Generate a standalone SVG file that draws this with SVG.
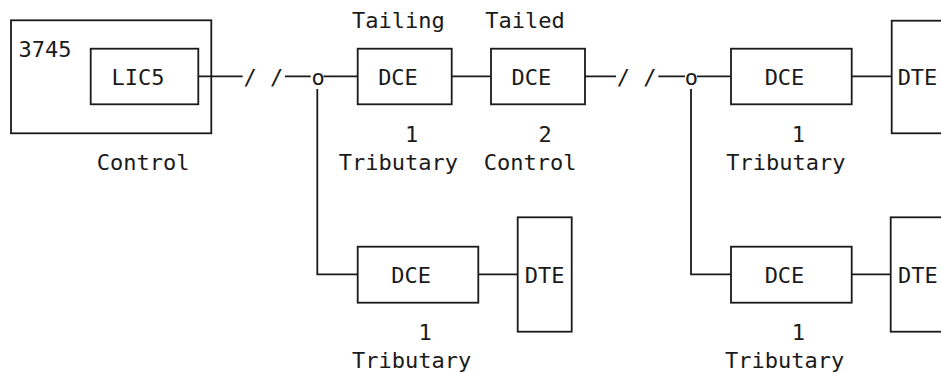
<svg xmlns="http://www.w3.org/2000/svg" width="941" height="373" viewBox="0 0 941 373">
<style>
.b{fill:none;stroke:#1a1a1a;stroke-width:1.8}
.l{fill:none;stroke:#1a1a1a;stroke-width:1.8}
text{font-family:"DejaVu Sans Mono","Liberation Mono",monospace;font-size:22px;fill:#1a1a1a;text-anchor:middle}
</style>
<rect width="941" height="373" fill="#fff"/>
<g id="connectors">
<path class="l" d="M198.3,76.3H242.7M285,76.3H310.7M323.5,76.3H357.7M451.7,76.3H491M585,76.3H616M658.3,76.3H685M697,76.3H731M851.7,76.3H891.7"/>
<path class="l" d="M317.3,89V274.3H357.7M478.3,274.3H517.7"/>
<path class="l" d="M691,89V274.3H731M851.7,274.3H890.7"/>
<text x="263.3" y="85">/ /</text>
<text x="318" y="85">o</text>
<text x="636.7" y="85">/ /</text>
<text x="691.3" y="85">o</text>
</g>
<g id="n3745">
<rect class="b" x="11" y="20.3" width="200.3" height="113"/>
<text x="44.9" y="56.7">3745</text>
<text x="143.2" y="170">Control</text>
</g>
<g id="lic5">
<rect class="b" x="90.7" y="48.7" width="107.6" height="55.6"/>
<text x="138" y="85">LIC5</text>
</g>
<g id="dce1">
<rect class="b" x="357.7" y="48.7" width="94" height="55.6"/>
<text x="398.3" y="28.3">Tailing</text>
<text x="398" y="85">DCE</text>
<text x="411.7" y="141.7">1</text>
<text x="398.3" y="170">Tributary</text>
</g>
<g id="dce2">
<rect class="b" x="491" y="48.7" width="94" height="55.6"/>
<text x="525" y="28.3">Tailed</text>
<text x="531.3" y="85">DCE</text>
<text x="545" y="141.7">2</text>
<text x="530.2" y="170">Control</text>
</g>
<g id="dce3">
<rect class="b" x="731" y="48.7" width="120.7" height="55.6"/>
<text x="784.5" y="85">DCE</text>
<text x="798.3" y="141.7">1</text>
<text x="785.8" y="170">Tributary</text>
</g>
<g id="dte3">
<rect class="b" x="891.7" y="20.7" width="70" height="112.6"/>
<text x="917.5" y="85">DTE</text>
</g>
<g id="dce4">
<rect class="b" x="357.7" y="246.7" width="120.6" height="56"/>
<text x="411.2" y="283.3">DCE</text>
<text x="425" y="340">1</text>
<text x="411.7" y="368.3">Tributary</text>
</g>
<g id="dte4">
<rect class="b" x="517.7" y="217.3" width="54" height="114.4"/>
<text x="544.7" y="283.3">DTE</text>
</g>
<g id="dce5">
<rect class="b" x="731" y="246.7" width="120.7" height="56"/>
<text x="784.5" y="283.3">DCE</text>
<text x="798.3" y="340">1</text>
<text x="784.7" y="368.3">Tributary</text>
</g>
<g id="dte5">
<rect class="b" x="890.7" y="217.3" width="70" height="114.4"/>
<text x="917.8" y="283.3">DTE</text>
</g>
</svg>
